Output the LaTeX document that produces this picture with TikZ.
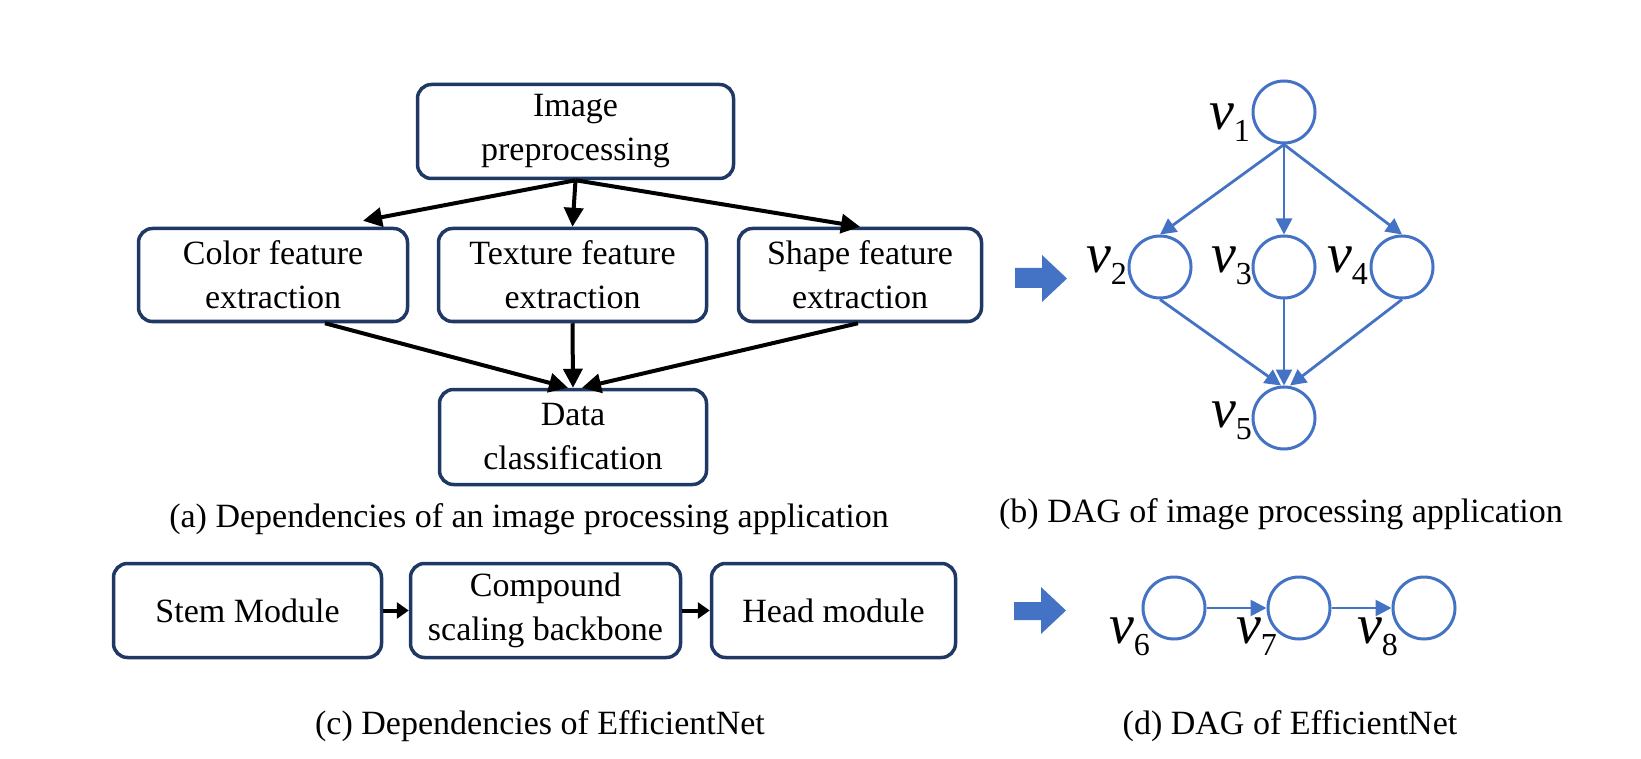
\documentclass[tikz,border=0pt]{standalone}
\usepackage{fontspec}
\setmainfont{Liberation Serif}
\usetikzlibrary{arrows.meta,calc}
\definecolor{navy}{HTML}{1F3864}
\definecolor{oblue}{HTML}{4472C4}
\newcommand{\vlab}[1]{\fontsize{56}{56}\selectfont\itshape v\kern-1pt\raisebox{-12pt}{\fontsize{32}{32}\selectfont\upshape #1}}
\begin{document}
\begin{tikzpicture}[x=1pt,y=-1pt,
  box/.style={draw=navy, line width=3.5pt, rounded corners=14pt, align=center,
    font=\fontsize{34}{44}\selectfont, inner sep=0pt},
  captext/.style={font=\fontsize{34}{42}\selectfont, anchor=base, inner sep=0pt},
  karrow/.style={line width=4pt, -{Triangle[length=19pt,width=19pt]}},
  sarrow/.style={line width=4pt, -{Triangle[length=12pt,width=16pt]}},
  vert/.style={circle, draw=oblue, line width=3pt, minimum size=62pt, inner sep=0pt},
  barrow/.style={draw=oblue, line width=2.8pt, -{Triangle[length=16pt,width=16pt]}},
  vl/.style={anchor=base east, inner sep=0pt},
  blockarrow/.style={fill=oblue}
]
\useasboundingbox (0,0) rectangle (1641,759);

% (a) boxes
\node[box, minimum width=316pt, minimum height=94pt] (pre) at (575.5,131.5) {Image\\preprocessing};
\node[box, minimum width=269pt, minimum height=93pt] (color) at (273,275) {Color feature\\extraction};
\node[box, minimum width=268pt, minimum height=93pt] (texture) at (572.5,275) {Texture feature\\extraction};
\node[box, minimum width=243pt, minimum height=93pt] (shape) at (860,275) {Shape feature\\extraction};
\node[box, minimum width=267pt, minimum height=95pt] (data) at (573,437) {Data\\classification};

\draw[karrow] (pre.south) -- ($(color.north)+(90,-6)$);
\draw[karrow] (pre.south) -- (texture.north);
\draw[karrow] (pre.south) -- (shape.north);
\draw[karrow] ($(color.south)+(52,0)$) -- ($(data.north)+(-5,0)$);
\draw[karrow] (texture.south) -- (data.north);
\draw[karrow] ($(shape.south)+(-2,0)$) -- ($(data.north)+(9,0)$);

% (b) DAG
\node[vert] (v1) at (1284,112) {};
\node[vert] (v2) at (1160,267) {};
\node[vert] (v3) at (1284,267) {};
\node[vert] (v4) at (1402,267) {};
\node[vert] (v5) at (1284,418) {};
\node[vl] (l1) at (1250,130) {\vlab{1}};
\node[vl] (l2) at (1127,273) {\vlab{2}};
\node[vl] (l3) at (1252,273) {\vlab{3}};
\node[vl] (l4) at (1368,273) {\vlab{4}};
\node[vl] (l5) at (1252,427) {\vlab{5}};
\draw[barrow] (v1.south) -- (v2.north);
\draw[barrow] (v1.south) -- (v3.north);
\draw[barrow] (v1.south) -- (v4.north);
\draw[barrow] (v2.south) -- ($(v5.north)+(-3,0)$);
\draw[barrow] (v3.south) -- (v5.north);
\draw[barrow] (v4.south) -- ($(v5.north)+(6,0)$);

\fill[blockarrow] (1015,268) -- (1042,268) -- (1042,255) -- (1067,278.5) -- (1042,302) -- (1042,288) -- (1015,288) -- cycle;

% captions
\node[captext] (capa) at (529,527) {(a) Dependencies of an image processing application};
\node[captext] (capb) at (1281,522) {(b) DAG of image processing application};

% (c) boxes
\node[box, minimum width=268pt, minimum height=94pt] (stem) at (247.5,610.5) {Stem Module};
\node[box, minimum width=270pt, minimum height=94pt] (comp) at (545.5,610.5) {Compound\\scaling backbone};
\node[box, minimum width=244pt, minimum height=94pt] (head) at (833.5,610.5) {Head module};
\draw[sarrow] (stem.east) -- (comp.west);
\draw[sarrow] (comp.east) -- (head.west);

% (d) DAG
\node[vert] (v6) at (1174,608) {};
\node[vert] (v7) at (1299,608) {};
\node[vert] (v8) at (1424,608) {};
\node[vl] (l6) at (1150,643) {\vlab{6}};
\node[vl] (l7) at (1277,643) {\vlab{7}};
\node[vl] (l8) at (1398,643) {\vlab{8}};
\draw[barrow] (v6.east) -- (v7.west);
\draw[barrow] (v7.east) -- (v8.west);

\fill[blockarrow] (1014,602) -- (1041,602) -- (1041,587) -- (1066,610.5) -- (1041,634) -- (1041,620) -- (1014,620) -- cycle;

\node[captext] (capc) at (540,734) {(c) Dependencies of EfficientNet};
\node[captext] (capd) at (1290,734) {(d) DAG of EfficientNet};
\end{tikzpicture}
\end{document}
